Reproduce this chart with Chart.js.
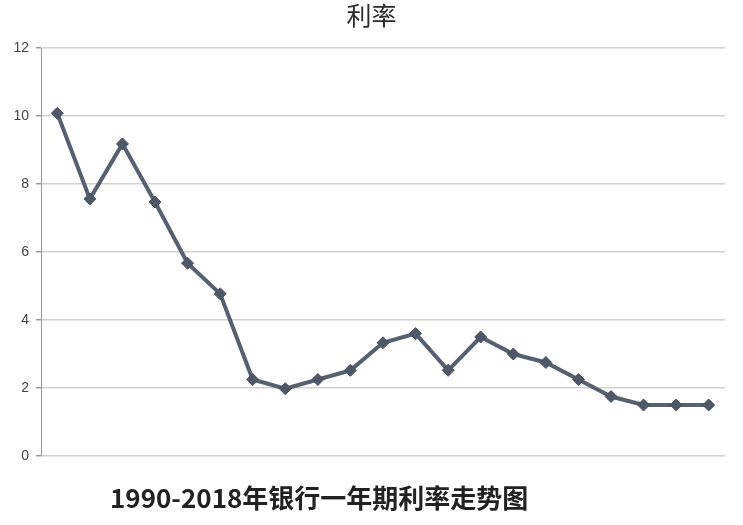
<!DOCTYPE html>
<html>
<head>
<meta charset="utf-8">
<script src="https://cdn.jsdelivr.net/npm/chart.js@4/dist/chart.umd.min.js"></script>
<style>
  html, body { margin: 0; padding: 0; background: #fff; }
  #wrap { width: 743px; height: 525px; }
</style>
</head>
<body>
<div id="wrap"><canvas id="rateChart" width="743" height="525"></canvas></div>
<script>
    // 1990-2018 one-year deposit rate, 21 points
    const years = ['1990', '1991', '1993', '1995', '1996', '1997', '1998', '1999', '2002',
        '2004', '2006', '2007', '2008', '2010', '2011', '2012', '2014', '2015a', '2015b', '2016', '2018'];
    const rates = [10.08, 7.56, 9.18, 7.47, 5.67, 4.77, 2.25, 1.98, 2.25, 2.52, 3.33,
        3.6, 2.52, 3.5, 3.0, 2.75, 2.25, 1.75, 1.5, 1.5, 1.5];
    const yTicks = [0, 2, 4, 6, 8, 10, 12];

    const chartTitle = '利率';
    const caption = '1990-2018年银行一年期利率走势图';

    const lineColor = '#556070';
    const cjkFont = '"Noto Sans CJK SC", "Noto Sans", sans-serif';

    // title centred on the whole canvas and caption under the plot
    const textPlugin = {
        id: 'texts',
        afterDraw(chart) {
            const c = chart.ctx;
            c.save();
            c.textBaseline = 'middle';
            c.font = '25px ' + cjkFont;
            c.fillStyle = '#2b2b2b';
            c.textAlign = 'center';
            c.fillText(chartTitle, chart.width / 2, 15);
            c.font = 'bold 26px ' + cjkFont;
            c.fillStyle = '#222';
            c.textAlign = 'left';
            c.fillText(caption, 110, 498);
            c.restore();
        }
    };

    new Chart(document.getElementById('rateChart'), {
        type: 'line',
        data: {
            labels: years,
            datasets: [{
                data: rates,
                borderColor: lineColor,
                borderWidth: 4,
                backgroundColor: lineColor,
                pointStyle: 'rectRot',
                pointRadius: 6,
                pointBorderWidth: 1,
                pointBorderColor: '#4a5362',
                pointBackgroundColor: '#4f5867',
                tension: 0,
                fill: false,
            }]
        },
        options: {
            responsive: false,
            animation: false,
            layout: { padding: { left: 0, right: 18, top: 48, bottom: 69 } },
            plugins: {
                legend: { display: false },
                tooltip: { enabled: false },
                title: { display: false },
            },
            scales: {
                x: {
                    offset: true,
                    ticks: { display: false },
                    grid: { display: false, drawTicks: false },
                    border: { display: false },
                },
                y: {
                    min: 0,
                    max: 12,
                    afterBuildTicks: (scale) => { scale.ticks = yTicks.map(v => ({ value: v })); },
                    afterFit: (scale) => { scale.width = 41; },
                    ticks: {
                        color: '#444',
                        padding: 7,
                        font: { family: '"Liberation Sans", Arial, sans-serif', size: 14 },
                    },
                    grid: { color: '#d2d2d2', lineWidth: 1.5, tickLength: 5, tickColor: '#999' },
                    border: { display: true, color: '#9a9a9a', width: 1 },
                }
            }
        },
        plugins: [textPlugin]
    });
</script>
</body>
</html>
